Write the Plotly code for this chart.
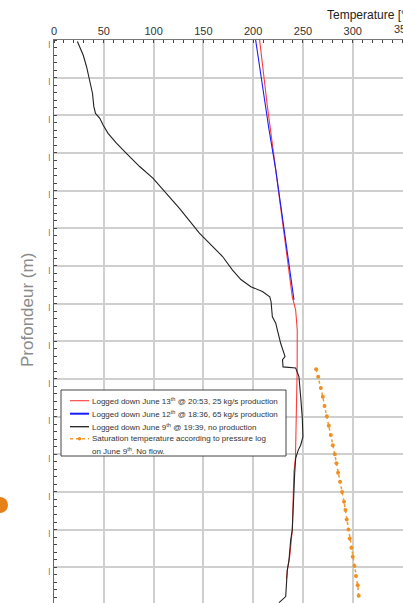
import plotly.graph_objects as go

# Temperature logs versus depth (T in °C, depth in m)
june13_temp = [206.5, 214, 222.7, 231, 239.3, 242.7, 244.3, 244.2, 243.8, 243.2, 242.5, 241, 240.3, 239.3, 236.7, 234.3, 233.5]
june13_depth = [0, 170, 345, 515, 682, 717, 770, 876, 940, 1000, 1111, 1146, 1213, 1301, 1372, 1408, 1432]

june12_temp = [202.5, 209, 216, 222.7, 232, 241]
june12_depth = [0, 120, 239, 345, 520, 690]

june9_temp = [23.5, 26, 29.3, 32.7, 36, 38.7, 40, 41.7, 46, 49.3, 54.3, 62.7, 72.7, 86, 99.3, 112.7, 126,
              146, 169.3, 179.3, 187.7, 197.7, 209.3, 216.7, 218, 219.3, 222.7, 224.3, 227.7, 231, 232,
              229.5, 230, 242.7, 246, 247.7, 249.3, 250, 247.7, 245.3, 242.7, 241.7, 241, 239.3, 237.7,
              236, 234.3, 233.3, 232.7, 226]
june9_depth = [4, 18, 40, 71, 106, 142, 177, 195, 208, 226, 248, 274, 301, 336, 367, 407, 447,
               513, 575, 611, 636, 655, 668, 682, 695, 735, 752, 770, 806, 832, 841,
               849, 868, 871, 894, 947, 1000, 1054, 1076, 1089, 1111, 1151, 1213, 1301, 1328,
               1381, 1408, 1470, 1478, 1494]

sat_temp = [263.3, 265.3, 268, 270, 271.7, 274, 276, 278, 280, 282, 283.7, 285.3, 287.3, 289.3,
            291.3, 292.7, 294, 295.7, 297, 298.7, 300, 301.7, 303.3, 305, 306]
sat_depth = [874, 894, 924, 947, 972, 999, 1024, 1049, 1076, 1100, 1124, 1149, 1173, 1200,
             1226, 1248, 1273, 1300, 1324, 1348, 1372, 1397, 1423, 1448, 1476]

temp_ticks = [0, 50, 100, 150, 200, 250, 300]
edge_tick = 350
depth_ticks = list(range(0, 1600, 100))

series_labels = [
    "Logged down June 13<sup>th</sup> @ 20:53, 25 kg/s production",
    "Logged down June 12<sup>th</sup> @ 18:36, 65 kg/s production",
    "Logged down June 9<sup>th</sup> @ 19:39, no production",
    "Saturation temperature according to pressure log",
]
saturation_label_tail = "on June 9<sup>th</sup>. No flow."

RED, BLUE, BLACK, ORANGE = "#ff3b3b", "#1a1aff", "#222222", "#f29a2e"
font_family = "Liberation Sans, Arial, sans-serif"

W, H = 403, 603
ML, MT = 54, 40
PW, PH = W - ML, H - MT


def px(x):
    """Horizontal pixel position -> paper fraction."""
    return (x - ML) / PW


def py(y):
    """Vertical pixel position (from top) -> paper fraction."""
    return (H - y) / PH


fig = go.Figure()
fig.add_trace(go.Scatter(x=june13_temp, y=june13_depth, mode="lines",
                         line=dict(color=RED, width=1.1), name=series_labels[0]))
fig.add_trace(go.Scatter(x=june12_temp, y=june12_depth, mode="lines",
                         line=dict(color=BLUE, width=1.1), name=series_labels[1]))
fig.add_trace(go.Scatter(x=june9_temp, y=june9_depth, mode="lines",
                         line=dict(color=BLACK, width=1.1), name=series_labels[2]))
fig.add_trace(go.Scatter(x=sat_temp, y=sat_depth, mode="lines+markers",
                         line=dict(color=ORANGE, width=1.5, dash="dot"),
                         marker=dict(color="#f0901f", size=4, symbol="circle"),
                         name=series_labels[3]))

fig.update_layout(
    width=W, height=H,
    margin=dict(l=ML, r=0, t=MT, b=0),
    paper_bgcolor="white", plot_bgcolor="white",
    font=dict(family=font_family, color="#333333"),
    showlegend=False,
    xaxis=dict(
        side="top", range=[0, 350.5],
        tickmode="array", tickvals=temp_ticks,
        tickfont=dict(size=11, color="#333333"),
        showgrid=True, gridcolor="#cfcfcf", gridwidth=1.5,
        showline=True, linecolor="#777777", linewidth=1,
        ticks="", zeroline=False,
        minor=dict(dtick=10, tick0=0, ticks="inside", ticklen=3, tickcolor="#444444", showgrid=False),
    ),
    yaxis=dict(
        range=[1495, 0],
        tickmode="array", tickvals=depth_ticks, ticktext=["|"] * len(depth_ticks),
        tickfont=dict(size=8, color="#555555"),
        ticklabelshift=-3, ticklabelstandoff=1,
        showgrid=True, gridcolor="#cfcfcf", gridwidth=1.5,
        showline=True, linecolor="#666666", linewidth=1,
        ticks="", zeroline=False,
        minor=dict(dtick=20, tick0=0, ticks="inside", ticklen=3, tickcolor="#444444", showgrid=False),
    ),
)

# last temperature label sits on the right edge of the frame
fig.add_annotation(
    text=str(edge_tick), xref="x", yref="paper", x=edge_tick, y=1,
    xanchor="center", yanchor="bottom", yshift=3, showarrow=False,
    font=dict(size=11, color="#333333"))

fig.add_annotation(
    text="Temperature [°C]", xref="paper", yref="paper",
    x=px(325), y=py(15), xanchor="left", yanchor="middle",
    showarrow=False, font=dict(size=12, color="#222222"))

fig.add_annotation(
    text="Profondeur (m)", xref="paper", yref="paper",
    x=px(27), y=py(310), xanchor="center", yanchor="middle",
    textangle=-90, showarrow=False, font=dict(size=17, color="#8a8a8a"))

# compact key box
fig.add_shape(type="rect", xref="paper", yref="paper",
              x0=px(61), x1=px(286), y0=py(456), y1=py(390),
              fillcolor="white", line=dict(color="#444444", width=1), layer="above")

row_y = [400.7, 413.7, 426.7, 438.7]
key_styles = [
    dict(color=RED, width=1.1),
    dict(color=BLUE, width=2),
    dict(color=BLACK, width=1.3),
    dict(color=ORANGE, width=1.5, dash="dot"),
]
for ry, style, label in zip(row_y, key_styles, series_labels):
    fig.add_shape(type="line", xref="paper", yref="paper",
                  x0=px(70), x1=px(89), y0=py(ry), y1=py(ry),
                  line=style, layer="above")
    fig.add_annotation(text=label, xref="paper", yref="paper",
                       x=px(90), y=py(ry), xanchor="left", yanchor="middle",
                       showarrow=False, font=dict(size=8, color="#333333"))

fig.add_shape(type="circle", xref="paper", yref="paper",
              xsizemode="pixel", ysizemode="pixel",
              xanchor=px(79.5), yanchor=py(row_y[3]),
              x0=-1.8, x1=1.8, y0=-1.8, y1=1.8,
              fillcolor="#f0901f", line=dict(width=0), layer="above")

fig.add_annotation(text=saturation_label_tail, xref="paper", yref="paper",
                   x=px(90), y=py(451), xanchor="left", yanchor="middle",
                   showarrow=False, font=dict(size=8, color="#333333"))

fig.add_shape(
    type="circle", xref="paper", yref="paper",
    xsizemode="pixel", ysizemode="pixel",
    xanchor=px(0), yanchor=py(505),
    x0=-8, x1=8, y0=-8, y1=8,
    fillcolor="#e8801a", line=dict(width=0))

fig.write_html("out.html")
